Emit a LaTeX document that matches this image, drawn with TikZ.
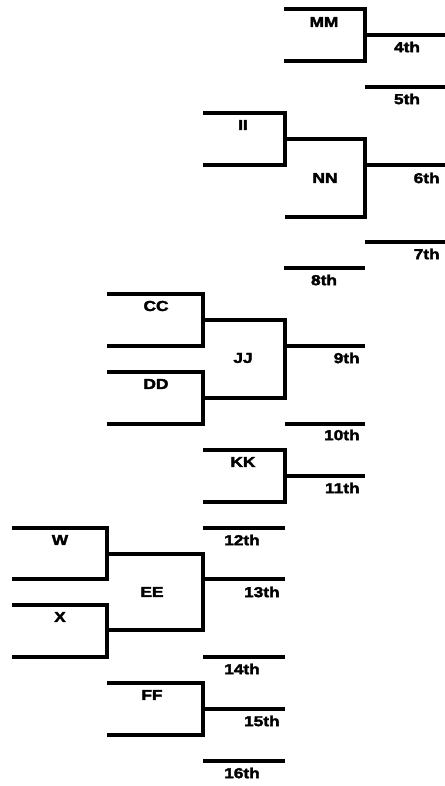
\documentclass[tikz,border=0pt]{standalone}
\usepackage{xcolor}
\usepackage{tikz}
\usepackage{fontspec}
\newfontfamily\brfont{Liberation Sans}[FakeStretch=1.2,FakeBold=2.5]
\tikzstyle{bar} = [draw, line width=0.09cm, line join=miter]
\tikzstyle{tag} = [font=\brfont\bfseries\fontsize{8.2pt}{9pt}\selectfont, inner sep=0pt]

\begin{document}
\begin{tikzpicture}[x=0.02cm, y=-0.02cm]
    \useasboundingbox (0,0) rectangle (445,786);

    % Place coordinates
    \coordinate (mm_t) at (284,9);
    \coordinate (mm_b) at (284,61);
    \coordinate (mm_o) at (365,35);
    \coordinate (p4) at (445,35);
    \coordinate (p5a) at (365,87);
    \coordinate (p5) at (445,87);

    \coordinate (ii_t) at (203,113);
    \coordinate (ii_b) at (203,165);
    \coordinate (ii_o) at (285,139);
    \coordinate (nn_b) at (285,217);
    \coordinate (nn_o) at (365,165);
    \coordinate (p6) at (445,165);
    \coordinate (p7a) at (365,242);
    \coordinate (p7) at (445,242);
    \coordinate (p8a) at (284,268);
    \coordinate (p8) at (365,268);

    \coordinate (cc_t) at (107,294);
    \coordinate (cc_b) at (107,346);
    \coordinate (cc_o) at (203,320);
    \coordinate (dd_t) at (107,372);
    \coordinate (dd_b) at (107,424);
    \coordinate (dd_o) at (203,398);
    \coordinate (jj_o) at (285,346);
    \coordinate (p9) at (365,346);
    \coordinate (p10a) at (285,424);
    \coordinate (p10) at (365,424);

    \coordinate (kk_t) at (203,450);
    \coordinate (kk_b) at (203,502);
    \coordinate (kk_o) at (285,476);
    \coordinate (p11) at (365,476);
    \coordinate (p12a) at (203,528);
    \coordinate (p12) at (285,528);

    \coordinate (w_t) at (12,528);
    \coordinate (w_b) at (12,579);
    \coordinate (w_o) at (107,554);
    \coordinate (x_t) at (12,605);
    \coordinate (x_b) at (12,657);
    \coordinate (x_o) at (107,630);
    \coordinate (ee_o) at (203,579);
    \coordinate (p13) at (285,579);
    \coordinate (p14a) at (203,657);
    \coordinate (p14) at (285,657);

    \coordinate (ff_t) at (107,683);
    \coordinate (ff_b) at (107,735);
    \coordinate (ff_o) at (203,709);
    \coordinate (p15) at (285,709);
    \coordinate (p16a) at (203,761);
    \coordinate (p16) at (285,761);

    % Draw brackets
    \path [bar] (mm_t) -| (mm_o) |- (mm_b);
    \path [bar] (ii_t) -| (ii_o) |- (ii_b);
    \path [bar] (ii_o) -| (nn_o) |- (nn_b);
    \path [bar] (cc_t) -| (cc_o) |- (cc_b);
    \path [bar] (dd_t) -| (dd_o) |- (dd_b);
    \path [bar] (cc_o) -| (jj_o) |- (dd_o);
    \path [bar] (kk_t) -| (kk_o) |- (kk_b);
    \path [bar] (w_t) -| (w_o) |- (w_b);
    \path [bar] (x_t) -| (x_o) |- (x_b);
    \path [bar] (w_o) -| (ee_o) |- (x_o);
    \path [bar] (ff_t) -| (ff_o) |- (ff_b);

    % Draw places
    \path [bar] (mm_o) -- (p4);
    \path [bar] (p5a) -- (p5);
    \path [bar] (nn_o) -- (p6);
    \path [bar] (p7a) -- (p7);
    \path [bar] (p8a) -- (p8);
    \path [bar] (jj_o) -- (p9);
    \path [bar] (p10a) -- (p10);
    \path [bar] (kk_o) -- (p11);
    \path [bar] (p12a) -- (p12);
    \path [bar] (ee_o) -- (p13);
    \path [bar] (p14a) -- (p14);
    \path [bar] (ff_o) -- (p15);
    \path [bar] (p16a) -- (p16);

    % Place labels
    \node [tag] (mm) at (324,22) {MM};
    \node [tag] (ii) at (243,125) {II};
    \node [tag] (nn) at (325,178) {NN};
    \node [tag] (cc) at (156,306) {CC};
    \node [tag] (dd) at (156,384) {DD};
    \node [tag] (jj) at (243,358) {JJ};
    \node [tag] (kk) at (243,462) {KK};
    \node [tag] (w) at (60,540) {W};
    \node [tag] (x) at (60,617) {X};
    \node [tag] (ee) at (152,592) {EE};
    \node [tag] (ff) at (152,695) {FF};

    \node [tag] (t4) at (407,47) {4th};
    \node [tag] (t5) at (407,99) {5th};
    \node [tag, anchor=east] (t6) at (440,178) {6th};
    \node [tag, anchor=east] (t7) at (440,254) {7th};
    \node [tag] (t8) at (324,280) {8th};
    \node [tag, anchor=east] (t9) at (360,358) {9th};
    \node [tag, anchor=east] (t10) at (360,435) {10th};
    \node [tag, anchor=east] (t11) at (360,488) {11th};
    \node [tag] (t12) at (242,540) {12th};
    \node [tag, anchor=east] (t13) at (280,592) {13th};
    \node [tag] (t14) at (242,669) {14th};
    \node [tag, anchor=east] (t15) at (280,721) {15th};
    \node [tag] (t16) at (242,773) {16th};

\end{tikzpicture}
\end{document}
